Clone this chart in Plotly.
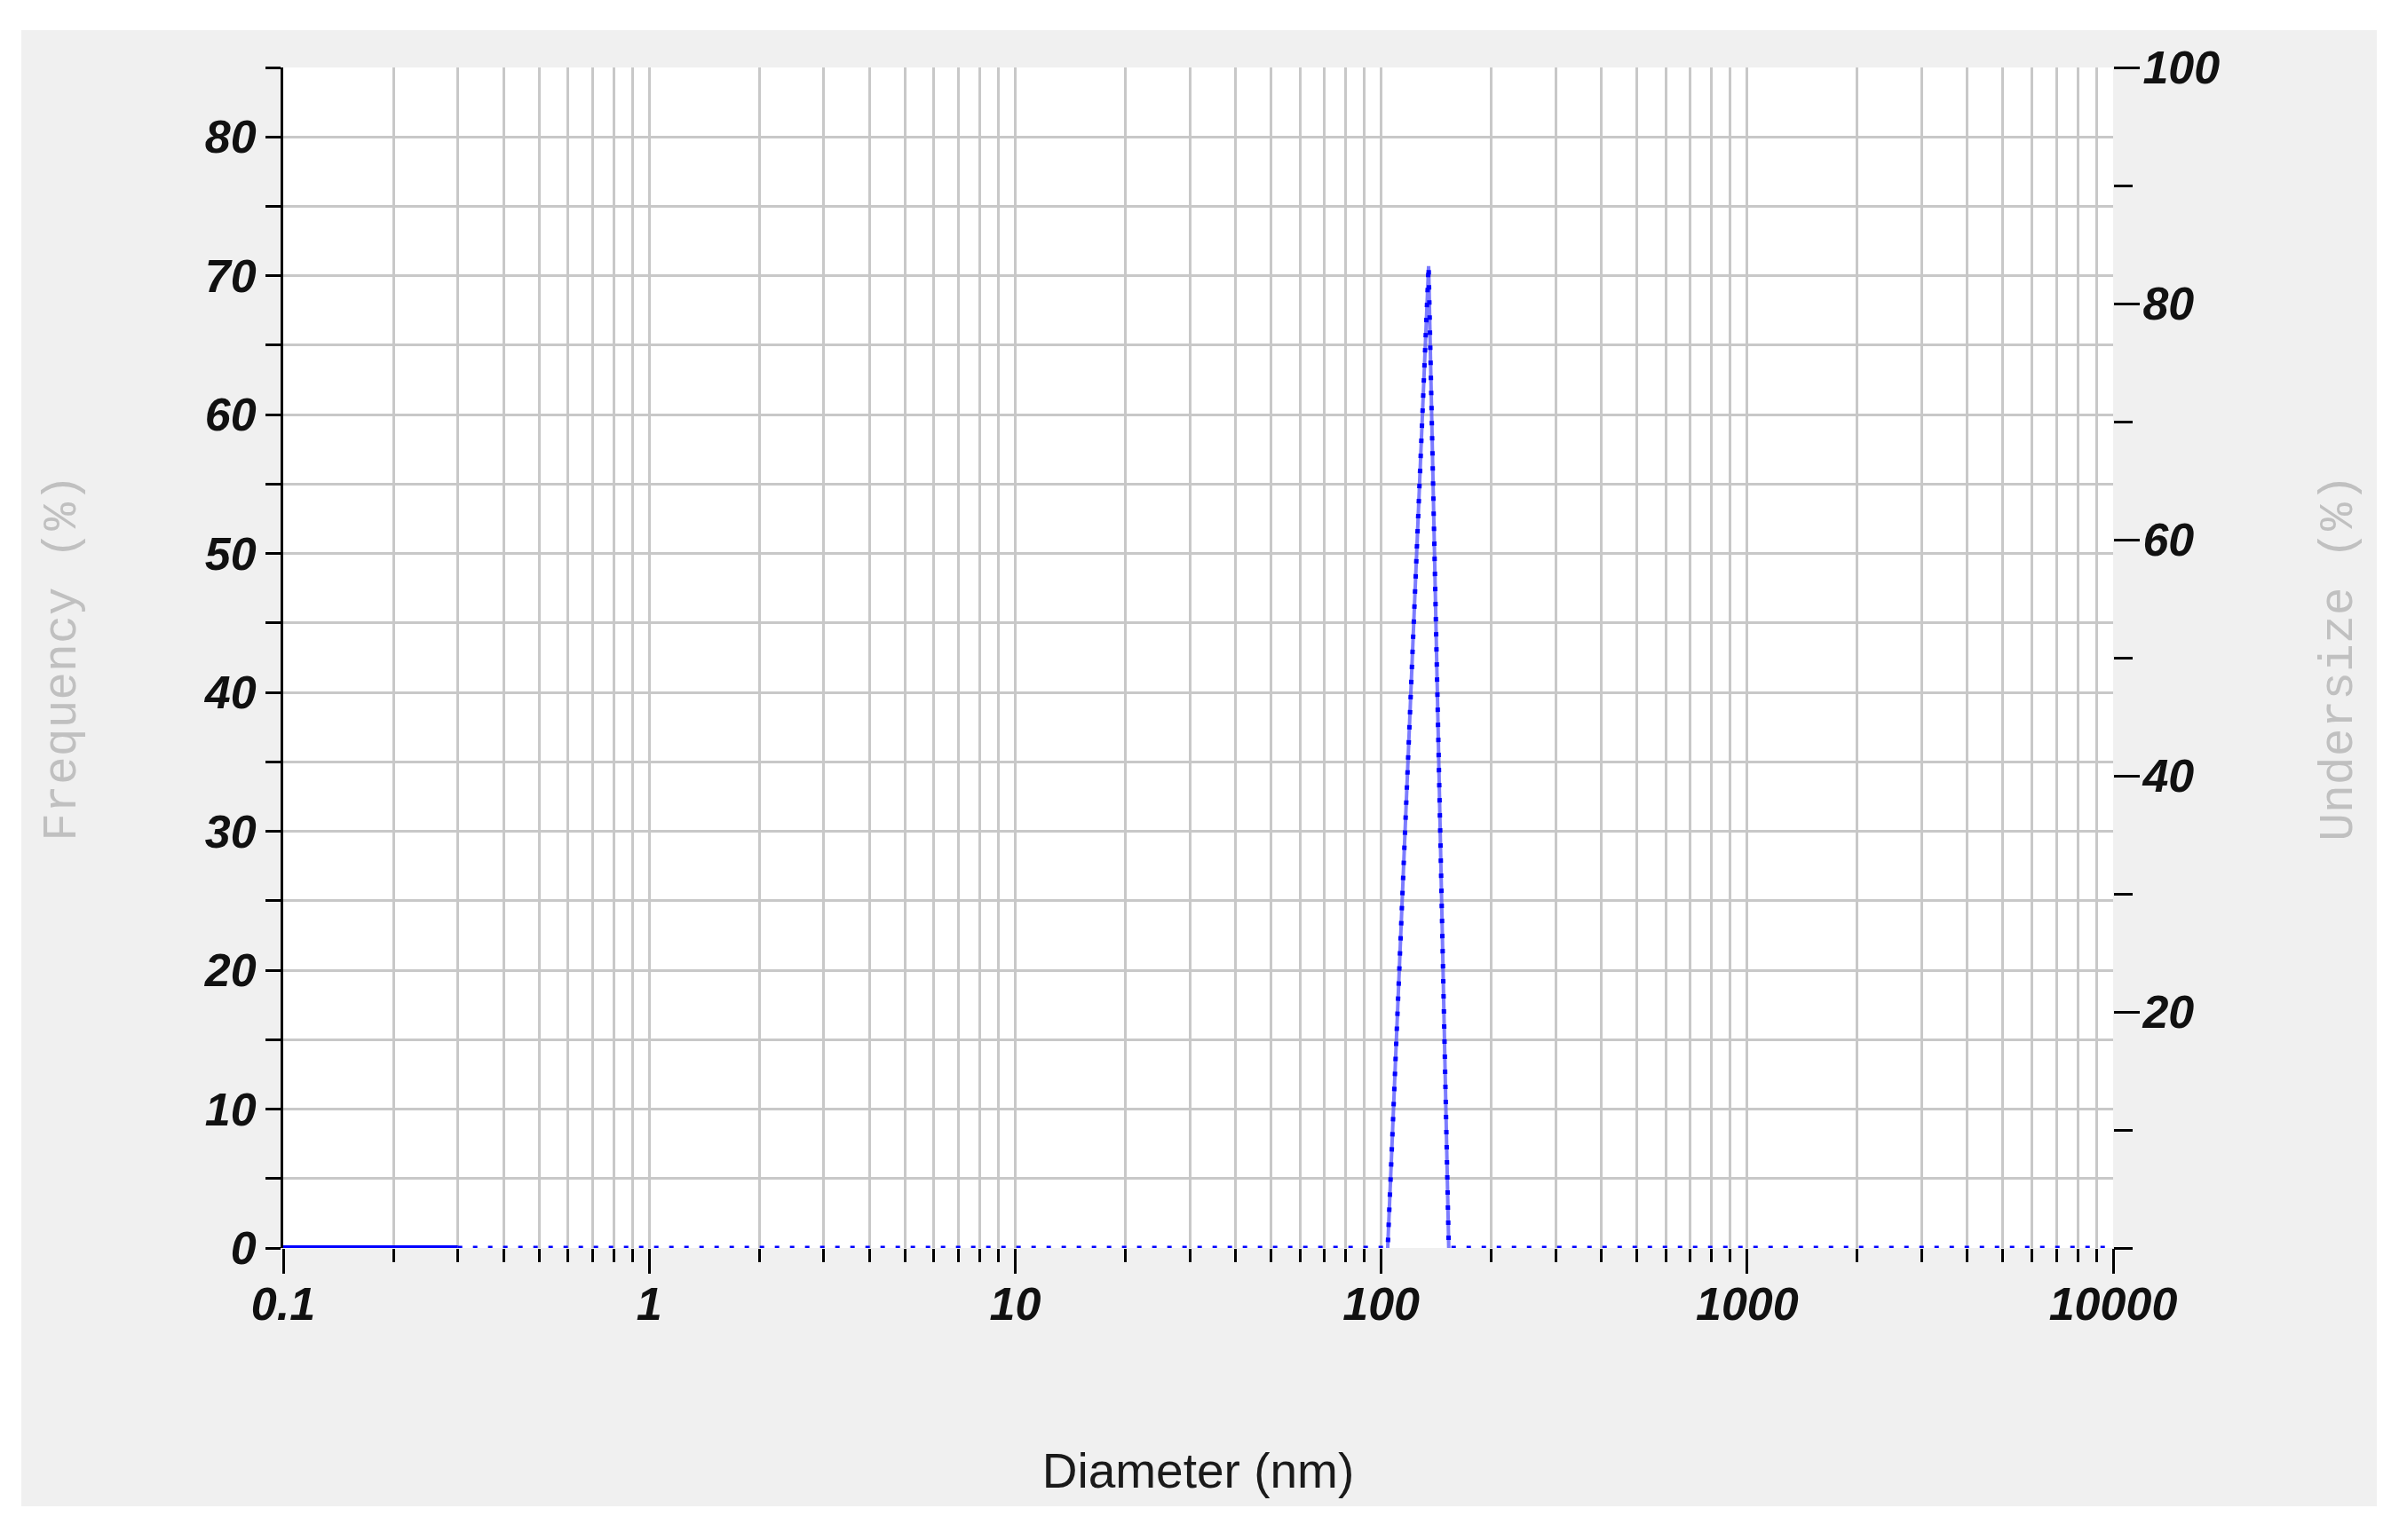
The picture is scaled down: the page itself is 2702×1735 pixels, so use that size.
import plotly.graph_objects as go

# particle size distribution
diameter_nm = [0.1, 0.3, 104.2, 134.8, 153.0, 10000]
frequency_pct = [0, 0, 0, 70.7, 0, 0]

x_tickvals = [0.1, 1, 10, 100, 1000, 10000]
x_ticktext = ["0.1", "1", "10", "100", "1000", "10000"]
y2_tickvals = [20, 40, 60, 80, 100]

W, H = 2702, 1735
L, R, T, B = 319, 2380, 76, 1406
pw, ph = R - L, B - T

tick_font = dict(family="Liberation Sans", size=52, color="#111111", weight="bold", style="italic")
title_grey = dict(family="Liberation Mono", size=53, color="#c0c0c0")

fig = go.Figure()

# short solid stretch at the start
fig.add_trace(go.Scatter(
    x=diameter_nm[:2], y=frequency_pct[:2], mode="lines",
    line=dict(color="#0000ff", width=6), showlegend=False, hoverinfo="skip"
))
# peak, lighter underlay
fig.add_trace(go.Scatter(
    x=diameter_nm[2:5], y=frequency_pct[2:5], mode="lines",
    line=dict(color="rgba(70,70,255,0.7)", width=4), showlegend=False, hoverinfo="skip"
))
# dotted remainder
fig.add_trace(go.Scatter(
    x=diameter_nm[1:], y=frequency_pct[1:], mode="lines",
    line=dict(color="#0000ff", width=5, dash="5px,12px"), showlegend=False
))
# undersize axis (no curve visible in the reference)
fig.add_trace(go.Scatter(x=[], y=[], yaxis="y2", mode="lines", showlegend=False))

minor_x = dict(ticks="outside", ticklen=15, tickwidth=3, tickcolor="#000000",
               showgrid=True, gridcolor="#c8c8c8", gridwidth=3, dtick="D1")

fig.update_layout(
    width=W, height=H,
    margin=dict(l=L, r=W - R, t=T, b=H - B, pad=0),
    paper_bgcolor="#ffffff",
    plot_bgcolor="#ffffff",
    showlegend=False,
    xaxis=dict(
        type="log", range=[-1, 4],
        tickvals=x_tickvals, ticktext=x_ticktext,
        ticks="outside", ticklen=28, tickwidth=3, tickcolor="#000000",
        showgrid=True, gridcolor="#c8c8c8", gridwidth=3,
        minor=minor_x,
        showline=False, zeroline=False,
        tickfont=tick_font, ticklabelstandoff=-10,
        title=dict(text="Diameter (nm)", font=dict(family="Liberation Sans", size=55, color="#1a1a1a"),
                   standoff=140),
    ),
    yaxis=dict(
        range=[0, 85], dtick=10, tick0=0,
        ticks="outside", ticklen=17, tickwidth=3, tickcolor="#000000",
        showgrid=True, gridcolor="#c8c8c8", gridwidth=3,
        minor=dict(dtick=5, ticks="outside", ticklen=17, tickwidth=3, tickcolor="#000000",
                   showgrid=True, gridcolor="#c8c8c8", gridwidth=3),
        showline=True, linecolor="#000000", linewidth=3,
        zeroline=False,
        tickfont=tick_font,
        title=dict(text="Frequency (%)", font=title_grey, standoff=128),
    ),
    yaxis2=dict(
        range=[0, 100], tickvals=y2_tickvals, overlaying="y", side="right", anchor="x",
        ticks="outside", ticklen=29, tickwidth=3, tickcolor="#000000",
        minor=dict(dtick=10, tick0=0, ticks="outside", ticklen=21, tickwidth=3, tickcolor="#000000"),
        showgrid=False, showline=False, zeroline=False,
        tickfont=tick_font, ticklabelstandoff=-7,
        title=dict(text="Undersize (%)", font=title_grey, standoff=112),
    ),
    shapes=[
        dict(type="rect", xref="paper", yref="paper", layer="below",
             x0=(24 - L) / pw, x1=(2677 - L) / pw, y0=(B - 1697) / ph, y1=(B - 34) / ph,
             fillcolor="#f0f0f0", line=dict(width=0)),
        dict(type="rect", xref="paper", yref="paper", layer="below",
             x0=0, x1=1, y0=0, y1=1, fillcolor="#ffffff", line=dict(width=0)),
    ],
)

fig.write_html("out.html", config={"displayModeBar": False},
               post_script="document.body.style.margin='0';")
